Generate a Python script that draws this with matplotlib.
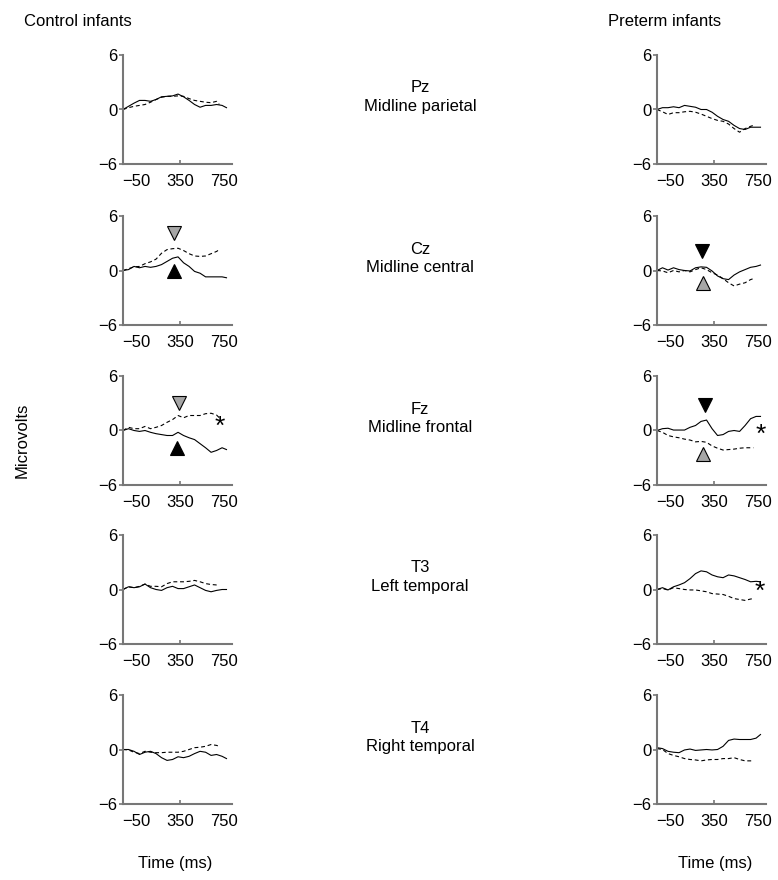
import matplotlib
matplotlib.use("Agg")
import matplotlib.pyplot as plt

plt.rcParams['font.family'] = ['Liberation Sans', 'DejaVu Sans']

# time grids (ms)
t_solid = [-170, -120, -70, -20, 30, 80, 130, 180, 230, 280, 330, 380, 430,
           480, 530, 580, 630, 680, 730, 770]
t_dash = [-170, -120, -70, -20, 30, 80, 130, 180, 230, 280, 330, 380, 430,
          480, 530, 580, 630, 680, 705]

sites = ["Pz\nMidline parietal", "Cz\nMidline central", "Fz\nMidline frontal",
         "T3\nLeft temporal", "T4\nRight temporal"]

# control infants: solid / dashed, microvolts
control_solid = [
    [0, 0.35, 0.7, 1.0, 1.0, 0.9, 1.1, 1.4, 1.45, 1.5, 1.7, 1.4, 1.0, 0.55, 0.25, 0.45, 0.45, 0.55, 0.45, 0.2],
    [0, 0.1, 0.45, 0.3, 0.45, 0.35, 0.45, 0.65, 1.0, 1.35, 1.5, 0.85, 0.45, -0.1, -0.3, -0.7, -0.7, -0.7, -0.7, -0.8],
    [0, 0.2, 0, -0.1, 0, -0.2, -0.35, -0.45, -0.55, -0.55, -0.2, -0.55, -0.8, -1.0, -1.45, -1.9, -2.4, -2.2, -1.9, -2.1],
    [0, 0.3, 0.2, 0.3, 0.6, 0.2, 0, -0.1, 0.2, 0.35, 0.1, 0.1, 0.3, 0.5, 0.2, -0.1, -0.25, -0.1, 0, 0],
    [0, 0, -0.2, -0.55, -0.3, -0.2, -0.45, -0.9, -1.2, -1.1, -0.8, -0.9, -0.75, -0.45, -0.2, -0.3, -0.65, -0.55, -0.75, -1.0],
]
control_dash = [
    [0, 0.2, 0.35, 0.45, 0.55, 0.8, 1.1, 1.35, 1.45, 1.45, 1.5, 1.45, 1.2, 1.0, 0.9, 0.8, 0.75, 0.9, 0.55],
    [0, 0.2, 0.4, 0.45, 0.75, 0.95, 1.25, 1.9, 2.3, 2.4, 2.45, 2.2, 1.85, 1.6, 1.55, 1.6, 1.85, 2.1, 2.3],
    [0, 0.35, 0.2, 0.2, 0.45, 0.2, 0.35, 0.55, 0.9, 1.2, 1.65, 1.4, 1.65, 1.65, 1.65, 1.85, 1.9, 1.7, 1.4],
    [0, 0.3, 0.2, 0.35, 0.6, 0.35, 0.35, 0.3, 0.65, 0.85, 0.85, 0.85, 0.9, 1.0, 0.85, 0.65, 0.55, 0.5, 0.5],
    [0, -0.05, -0.3, -0.45, -0.2, -0.3, -0.35, -0.35, -0.3, -0.3, -0.3, -0.2, 0, 0.2, 0.25, 0.35, 0.55, 0.45, 0.35],
]

# preterm infants
preterm_solid = [
    [0, 0.2, 0.2, 0.3, 0.2, 0.45, 0.35, 0.25, 0, 0, -0.3, -0.75, -1.1, -1.3, -1.75, -2.1, -2.2, -1.95, -1.95, -1.95],
    [0, 0.3, 0.05, 0.3, 0.1, 0, -0.05, 0.3, 0.4, 0.35, -0.05, -0.6, -0.9, -1.0, -0.5, -0.15, 0.1, 0.35, 0.45, 0.6],
    [0, 0.2, 0.25, 0.05, 0.05, 0.05, 0.35, 0.55, 1.0, 1.15, 0.2, -0.55, -0.45, -0.1, 0, -0.1, 0.55, 1.3, 1.55, 1.55],
    [0, 0.2, -0.05, 0.3, 0.5, 0.75, 1.2, 1.75, 2.05, 1.95, 1.6, 1.4, 1.3, 1.6, 1.5, 1.3, 1.1, 0.85, 0.9, 0.85],
    [0.2, 0.1, -0.2, -0.3, -0.35, -0.05, 0.05, -0.1, -0.05, 0, -0.05, 0, 0.35, 1.0, 1.15, 1.1, 1.1, 1.1, 1.25, 1.65],
]
preterm_dash = [
    [0, -0.25, -0.55, -0.35, -0.35, -0.25, -0.2, -0.3, -0.5, -0.75, -1.0, -1.2, -1.3, -1.6, -2.1, -2.5, -2.1, -1.85, -1.75],
    [0, -0.05, -0.25, 0, -0.15, 0, -0.15, 0.1, 0.3, 0.1, -0.25, -0.5, -0.9, -1.35, -1.7, -1.5, -1.35, -1.0, -0.9],
    [0, -0.2, -0.55, -0.7, -0.8, -0.95, -1.05, -1.25, -1.2, -1.3, -1.7, -1.95, -2.15, -2.1, -2.05, -1.95, -1.9, -1.9, -1.9],
    [0, 0.1, -0.05, 0.2, 0.1, 0, -0.05, -0.05, -0.15, -0.25, -0.45, -0.5, -0.55, -0.75, -1.0, -1.1, -1.2, -1.05, -1.0],
    [0.1, 0, -0.45, -0.65, -0.8, -1.0, -1.1, -1.15, -1.25, -1.15, -1.1, -1.1, -1.0, -1.0, -0.9, -1.1, -1.25, -1.25, -1.25],
]

# markers: (row, time, value, direction, colour)
control_marks = [(1, 296, 4.1, 'v', 'grey'), (1, 290, -0.1, '^', 'black'),
                 (2, 335, 3.05, 'v', 'grey'), (2, 320, -1.9, '^', 'black')]
preterm_marks = [(1, 239, 2.1, 'v', 'black'), (1, 248, -1.35, '^', 'grey'),
                 (2, 263, 2.85, 'v', 'black'), (2, 248, -2.55, '^', 'grey')]
control_stars = [(2, 712, 0.35)]
preterm_stars = [(2, 770, -0.45), (3, 765, -0.3)]

W, H = 778, 880
fig = plt.figure(figsize=(W / 100, H / 100), dpi=100)

ax_w, ax_h = 109, 109
tops = [55, 216, 376, 535, 695]
lefts = [123, 657]
spine_col = '#777777'
fills = {'grey': '#a6a6a6', 'black': 'black'}


def make_axes(left, top):
    ax = fig.add_axes([left / W, 1 - (top + ax_h) / H, ax_w / W, ax_h / H])
    ax.set_xlim(-170, 820)
    ax.set_ylim(-6, 6)
    for s in ['top', 'right']:
        ax.spines[s].set_visible(False)
    for s in ['left', 'bottom']:
        ax.spines[s].set_color(spine_col)
        ax.spines[s].set_linewidth(1.5)
    ax.set_xticks([-50, 350, 750])
    ax.set_xticklabels(['\u221250', '350', '750'])
    ax.set_yticks([-6, 0, 6])
    ax.set_yticklabels(['\u22126', '0', '6'])
    ax.tick_params(axis='y', length=3, width=1.2, color=spine_col, pad=1, labelsize=12)
    ax.tick_params(axis='x', length=3, width=1.2, color=spine_col, direction='in', pad=7, labelsize=12)
    xt = ax.xaxis.get_major_ticks()
    xt[0].tick1line.set_visible(False)
    xt[2].tick1line.set_visible(False)
    ax.patch.set_visible(False)
    return ax


for col, (solid, dash, marks, stars) in enumerate([
        (control_solid, control_dash, control_marks, control_stars),
        (preterm_solid, preterm_dash, preterm_marks, preterm_stars)]):
    for row in range(5):
        ax = make_axes(lefts[col], tops[row])
        ax.plot(t_solid, solid[row], color='black', lw=0.8)
        ax.plot(t_dash, dash[row], color='black', lw=0.8, ls=(0, (3.5, 2.5)))
        for r, tm, v, m, c in marks:
            if r == row:
                ax.plot([tm], [v], marker=m, ms=10, mfc=fills[c], mec='black',
                        mew=0.8, ls='none', clip_on=False)
        for r, tm, v in stars:
            if r == row:
                ax.text(tm, v, '*', fontsize=19, ha='center', va='center',
                        clip_on=False)

for row in range(5):
    fig.text(420 / W, 1 - (tops[row] + 42) / H, sites[row], ha='center',
             va='center', fontsize=12, linespacing=1.25)

fig.text(78 / W, 1 - 21 / H, 'Control infants', ha='center', va='center', fontsize=12)
fig.text(665 / W, 1 - 21 / H, 'Preterm infants', ha='center', va='center', fontsize=12)
fig.text(22 / W, 1 - 440 / H, 'Microvolts', ha='center', va='center',
         rotation=90, fontsize=12)
fig.text(175 / W, 1 - 863 / H, 'Time (ms)', ha='center', va='center', fontsize=12)
fig.text(715 / W, 1 - 863 / H, 'Time (ms)', ha='center', va='center', fontsize=12)

fig.savefig('out.png', dpi=100, facecolor='white')
